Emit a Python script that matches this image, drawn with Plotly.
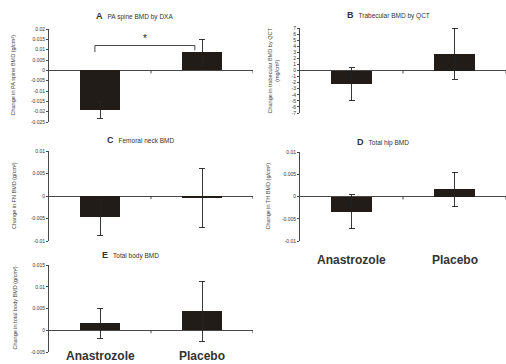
import plotly.graph_objects as go

W, H = 506, 364

groups = ["Anastrozole", "Placebo"]
group_x = [1, 2]

panel_letters = ["A", "B", "C", "D", "E"]
panel_titles = ["PA spine BMD by DXA", "Trabecular BMD by QCT", "Femoral neck BMD",
                "Total hip BMD", "Total body BMD"]
panel_ylabels = ["Change in PA spine BMD (g/cm²)",
                 "Change in trabecular BMD by QCT<br>(mg/cm³)",
                 "Change in FN BMD (g/cm²)",
                 "Change in TH BMD (g/cm²)",
                 "Change in total body BMD (g/cm²)"]

means_A = [-0.0192, 0.0087]
errs_A = [0.0040, 0.0063]
means_B = [-2.25, 2.8]
errs_B = [2.7, 4.2]
means_C = [-0.0047, -0.0004]
errs_C = [0.0040, 0.0066]
means_D = [-0.0034, 0.0016]
errs_D = [0.0038, 0.0039]
means_E = [0.0016, 0.0044]
errs_E = [0.0034, 0.0069]

ticks_A = [0.02, 0.015, 0.01, 0.005, 0, -0.005, -0.01, -0.015, -0.02, -0.025]
ticks_B = [7, 6, 5, 4, 3, 2, 1, 0, -1, -2, -3, -4, -5, -6, -7]
ticks_C = [0.01, 0.005, 0, -0.005, -0.01]
ticks_D = [0.01, 0.005, 0, -0.005, -0.01]
ticks_E = [0.015, 0.01, 0.005, 0, -0.005]

# significance bracket in panel A: [x_left, x_right, y_top, y_left_foot, y_right_foot]
sig_A = [0.95, 1.93, 0.012, 0.0088, 0.0097]

means = [means_A, means_B, means_C, means_D, means_E]
errs = [errs_A, errs_B, errs_C, errs_D, errs_E]
ticks = [ticks_A, ticks_B, ticks_C, ticks_D, ticks_E]

# pixel boxes: (left, right, top, bottom)
boxes = [(49, 253, 29, 122), (300, 506, 28, 113), (49, 253, 151, 241),
         (300, 506, 152, 241), (49, 253, 265, 352)]
title_pos = [(134, 16), (388, 15), (140, 140), (383, 142), (130, 255)]
ylab_x = [12, 273, 14, 267, 14]

BAR = "#221c19"
FONT = "Liberation Sans"
fig = go.Figure()
annotations = []
shapes = []
layout = {}

for i in range(5):
    n = "" if i == 0 else str(i + 1)
    xa, ya = "x" + n, "y" + n
    l, r, t, b = boxes[i]
    tv = ticks[i]
    fig.add_trace(go.Bar(
        x=group_x, y=means[i], width=0.4, marker=dict(color=BAR, line=dict(width=0)),
        error_y=dict(type="data", array=errs[i], visible=True, color="#222", thickness=0.9, width=3),
        xaxis=xa, yaxis=ya, showlegend=False, hoverinfo="skip"))
    layout["xaxis" + n] = dict(domain=[l / W, r / W], range=[0.5, 2.5], anchor=ya,
                               showticklabels=False, showline=False, ticks="",
                               showgrid=False, zeroline=False, fixedrange=True,
                               automargin=False)
    layout["yaxis" + n] = dict(domain=[1 - b / H, 1 - t / H], range=[min(tv), max(tv)],
                               anchor=xa, tickvals=tv, ticktext=[f"{v:g}" for v in tv],
                               ticks="outside", ticklen=2, tickwidth=0.9, tickcolor="#333",
                               showline=True, linecolor="#333", linewidth=0.9,
                               showgrid=False, zeroline=True, zerolinecolor="#333",
                               zerolinewidth=0.9, automargin=False, fixedrange=True,
                               tickfont=dict(size=5, color="#333", family=FONT))
    for xv in [1.5, 2.5]:
        shapes.append(dict(type="line", xref=xa, yref=ya, x0=xv, x1=xv, ysizemode="pixel",
                           yanchor=0, y0=0, y1=-3, line=dict(color="#333", width=0.9)))
    tx, ty = title_pos[i]
    annotations.append(dict(
        x=tx / W, y=1 - ty / H, xref="paper", yref="paper", showarrow=False,
        xanchor="center", yanchor="middle",
        text=f"<b>{panel_letters[i]}</b>  <span style='font-size:6.5px'>{panel_titles[i]}</span>",
        font=dict(size=9, color="#333", family=FONT)))
    annotations.append(dict(
        x=ylab_x[i] / W, y=1 - ((t + b) / 2) / H, xref="paper", yref="paper",
        xanchor="center", yanchor="middle",
        showarrow=False, textangle=-90, text=panel_ylabels[i],
        font=dict(size=5.5, color="#444", family=FONT)))

# significance bracket
xl, xr, yt, yl, yr = sig_A
for (x0, y0, x1, y1) in [(xl, yl, xl, yt), (xl, yt, xr, yt), (xr, yt, xr, yr)]:
    shapes.append(dict(type="line", xref="x", yref="y", x0=x0, y0=y0, x1=x1, y1=y1,
                       line=dict(color="#333", width=0.9)))
annotations.append(dict(x=(xl + xr) / 2, y=yt, xref="x", yref="y", yanchor="bottom",
                        xanchor="center", showarrow=False, text="*",
                        font=dict(size=10, color="#222", family=FONT)))

# group labels under panels D and E
for xa, ypix in [("x4", 260), ("x5", 356)]:
    for gx, g in zip(group_x, groups):
        annotations.append(dict(x=gx, y=1 - ypix / H, xref=xa, yref="paper",
                                xanchor="center", yanchor="middle",
                                showarrow=False, text=f"<b>{g}</b>",
                                font=dict(size=12, color="#333", family=FONT)))

fig.update_layout(width=W, height=H, margin=dict(l=0, r=0, t=0, b=0, autoexpand=False),
                  paper_bgcolor="white", plot_bgcolor="white", hovermode=False,
                  annotations=annotations, shapes=shapes, bargap=0, **layout)
fig.write_html("out.html", config={"displayModeBar": False, "staticPlot": True},
               post_script="document.body.style.margin='0';document.body.style.overflow='hidden';")
